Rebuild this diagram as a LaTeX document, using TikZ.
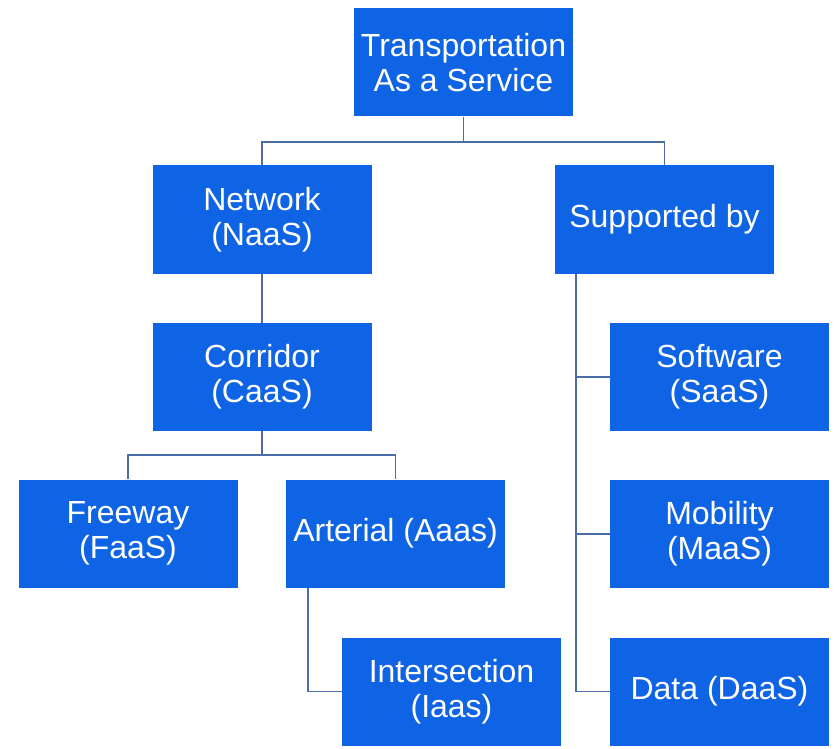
\documentclass[tikz,border=0pt]{standalone}
\usepackage{fontspec}
\setmainfont{Liberation Sans}
\definecolor{boxblue}{RGB}{14,100,228}
\definecolor{linkgray}{RGB}{76,110,168}
\begin{document}
\begin{tikzpicture}[x=1pt,y=-1pt,
  svcbox/.style={rectangle, fill=boxblue, text=white, inner sep=0pt,
    minimum width=219pt, minimum height=108pt, align=center,
    font=\fontsize{32}{35}\selectfont},
  link/.style={draw=linkgray, line width=1.8pt}]
  % page frame
  \useasboundingbox (0,0) rectangle (836,749);

  % boxes
  \node[svcbox] (top) at (463.5,62.5) {Transportation\\As a Service};
  \node[svcbox] (net) at (262,219.5) {Network\\(NaaS)};
  \node[svcbox] (sup) at (664.5,219.5) {Supported by};
  \node[svcbox] (cor) at (262,377) {Corridor\\(CaaS)};
  \node[svcbox] (fwy) at (128,533.5) {Freeway\\(FaaS)};
  \node[svcbox] (art) at (395.5,533.5) {Arterial (Aaas)};
  \node[svcbox] (int) at (451.5,691.5) {Intersection\\(Iaas)};
  \node[svcbox] (sw)  at (719.5,377) {Software\\(SaaS)};
  \node[svcbox] (mob) at (719.5,534) {Mobility\\(MaaS)};
  \node[svcbox] (dat) at (719.5,691.5) {Data (DaaS)};

  % top level split
  \coordinate (topfork) at ([yshift=-25pt]top.south);
  \draw[link] (top.south) -- (topfork);
  \draw[link] (topfork) -| (net.north);
  \draw[link] (topfork) -| (sup.north);

  % network branch
  \draw[link] (net.south) -- (cor.north);
  \coordinate (corfork) at ([yshift=-24pt]cor.south);
  \draw[link] (cor.south) -- (corfork);
  \draw[link] (corfork) -| (fwy.north);
  \draw[link] (corfork) -| (art.north);
  \coordinate (artspine) at ([xshift=22pt]art.south west);
  \draw[link] (artspine) |- (int.west);

  % supporting services
  \coordinate (supspine) at ([xshift=21pt]sup.south west);
  \draw[link] (supspine) |- (dat.west);
  \draw[link] (supspine) |- (sw.west);
  \draw[link] (supspine) |- (mob.west);
\end{tikzpicture}
\end{document}
